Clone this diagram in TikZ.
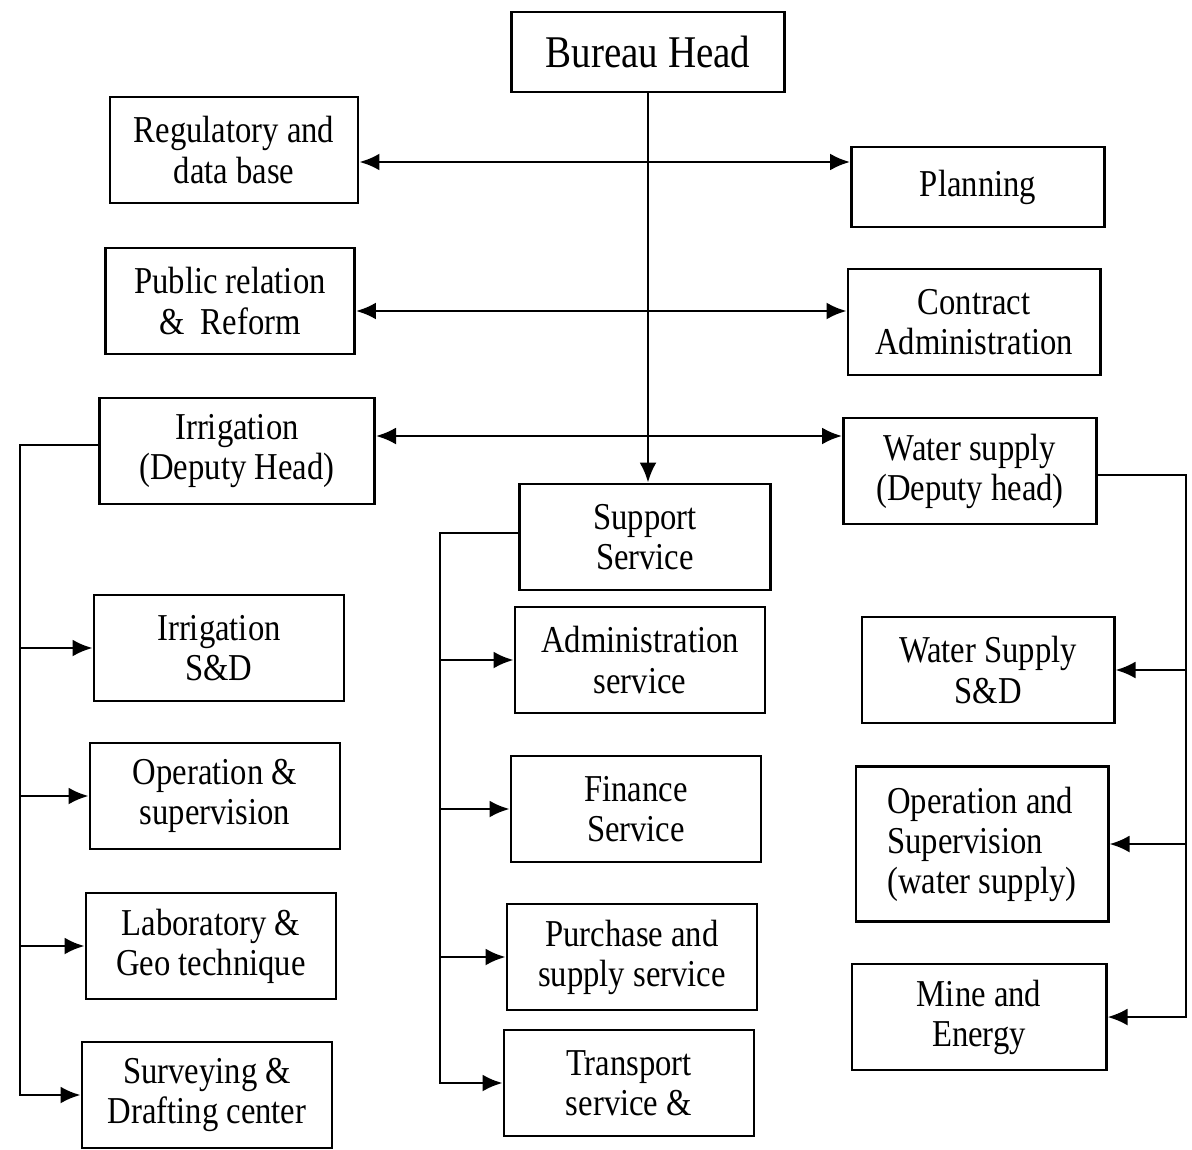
\documentclass[tikz,border=0pt]{standalone}
\usepackage{fontspec}
\setmainfont{Liberation Serif}[FakeStretch=0.86]
\usetikzlibrary{arrows.meta}

\begin{document}
\begin{tikzpicture} [x=0.01cm,y=-0.01cm,thick,>={Latex[length=2mm,width=1.7mm]},
		unit/.style={draw,align=center,minimum width=2.5cm,minimum height=1.06cm,inner sep=2pt,
			font=\fontsize{10.8}{11.4}\selectfont},
		head unit/.style={unit,minimum width=2.73cm,minimum height=0.8cm,font=\fontsize{12.9}{14}\selectfont}]

		\useasboundingbox (0,0) rectangle (1192,1149);

		% top of the chart
		\node [head unit] (head) at (648,52) {Bureau Head};
		\node [unit, minimum width=2.48cm] (regulatory) at (234,150) {Regulatory and\\data base};
		\node [unit, minimum width=2.53cm, minimum height=0.8cm] (planning) at (978,187) {Planning};
		\node [unit, minimum width=2.49cm] (publicrel) at (230,301) {Public relation\\\&\ \ Reform};
		\node [unit, minimum width=2.52cm] (contract) at (974,322) {Contract\\Administration};
		\node [unit, minimum width=2.75cm] (irrigation) at (237,451) {Irrigation\\(Deputy Head)};
		\node [unit, minimum width=2.53cm] (watersupply) at (970,471) {Water supply\\(Deputy head)};
		\node [unit, minimum width=2.51cm] (support) at (645,537) {Support\\Service};

		% irrigation side
		\node [unit] (irrsd) at (219,648) {Irrigation\\S\&D};
		\node [unit] (irrops) at (215,796) {Operation \&\\supervision};
		\node [unit] (lab) at (211,946) {Laboratory \&\\Geo technique};
		\node [unit] (survey) at (207,1095) {Surveying \&\\Drafting center};

		% support side
		\node [unit] (admin) at (640,660) {Administration\\service};
		\node [unit] (finance) at (636,809) {Finance\\Service};
		\node [unit] (purchase) at (632,957) {Purchase and\\supply service};
		\node [unit] (transport) at (629,1083) {Transport\\service \&};

		% water supply side
		\node [unit, minimum width=2.52cm] (wssd) at (988,670) {Water Supply\\S\&D};
		\node [unit, minimum width=2.52cm, minimum height=1.55cm, align=left] (wsops) at (982,844)
			{Operation and\\Supervision\\(water supply)};
		\node [unit, minimum width=2.54cm] (mine) at (979,1017) {Mine and\\Energy};

		\coordinate (row1) at (0,162);
		\coordinate (row2) at (0,311);
		\coordinate (row3) at (0,436);
		\coordinate (irrtrunk) at (20,445);
		\coordinate (suptrunk) at (440,533);
		\coordinate (wstrunk) at (1186,475);

		\draw [->] (head.south) -- (head.south |- support.north);
		\draw [<->] (regulatory.east |- row1) -- (planning.west |- row1);
		\draw [<->] (publicrel.east |- row2) -- (contract.west |- row2);
		\draw [<->] (irrigation.east |- row3) -- (watersupply.west |- row3);

		\draw [->] (irrigation.west |- irrtrunk) -- (irrtrunk) |- (survey.west);
		\foreach \n in {irrsd,irrops,lab}
			\draw [->] (irrtrunk |- \n.west) -- (\n.west);

		\draw [->] (support.west |- suptrunk) -- (suptrunk) |- (transport.west);
		\foreach \n in {admin,finance,purchase}
			\draw [->] (suptrunk |- \n.west) -- (\n.west);

		\draw [->] (watersupply.east |- wstrunk) -- (wstrunk) |- (mine.east);
		\foreach \n in {wssd,wsops}
			\draw [->] (wstrunk |- \n.east) -- (\n.east);
		\end{tikzpicture}
\end{document}
